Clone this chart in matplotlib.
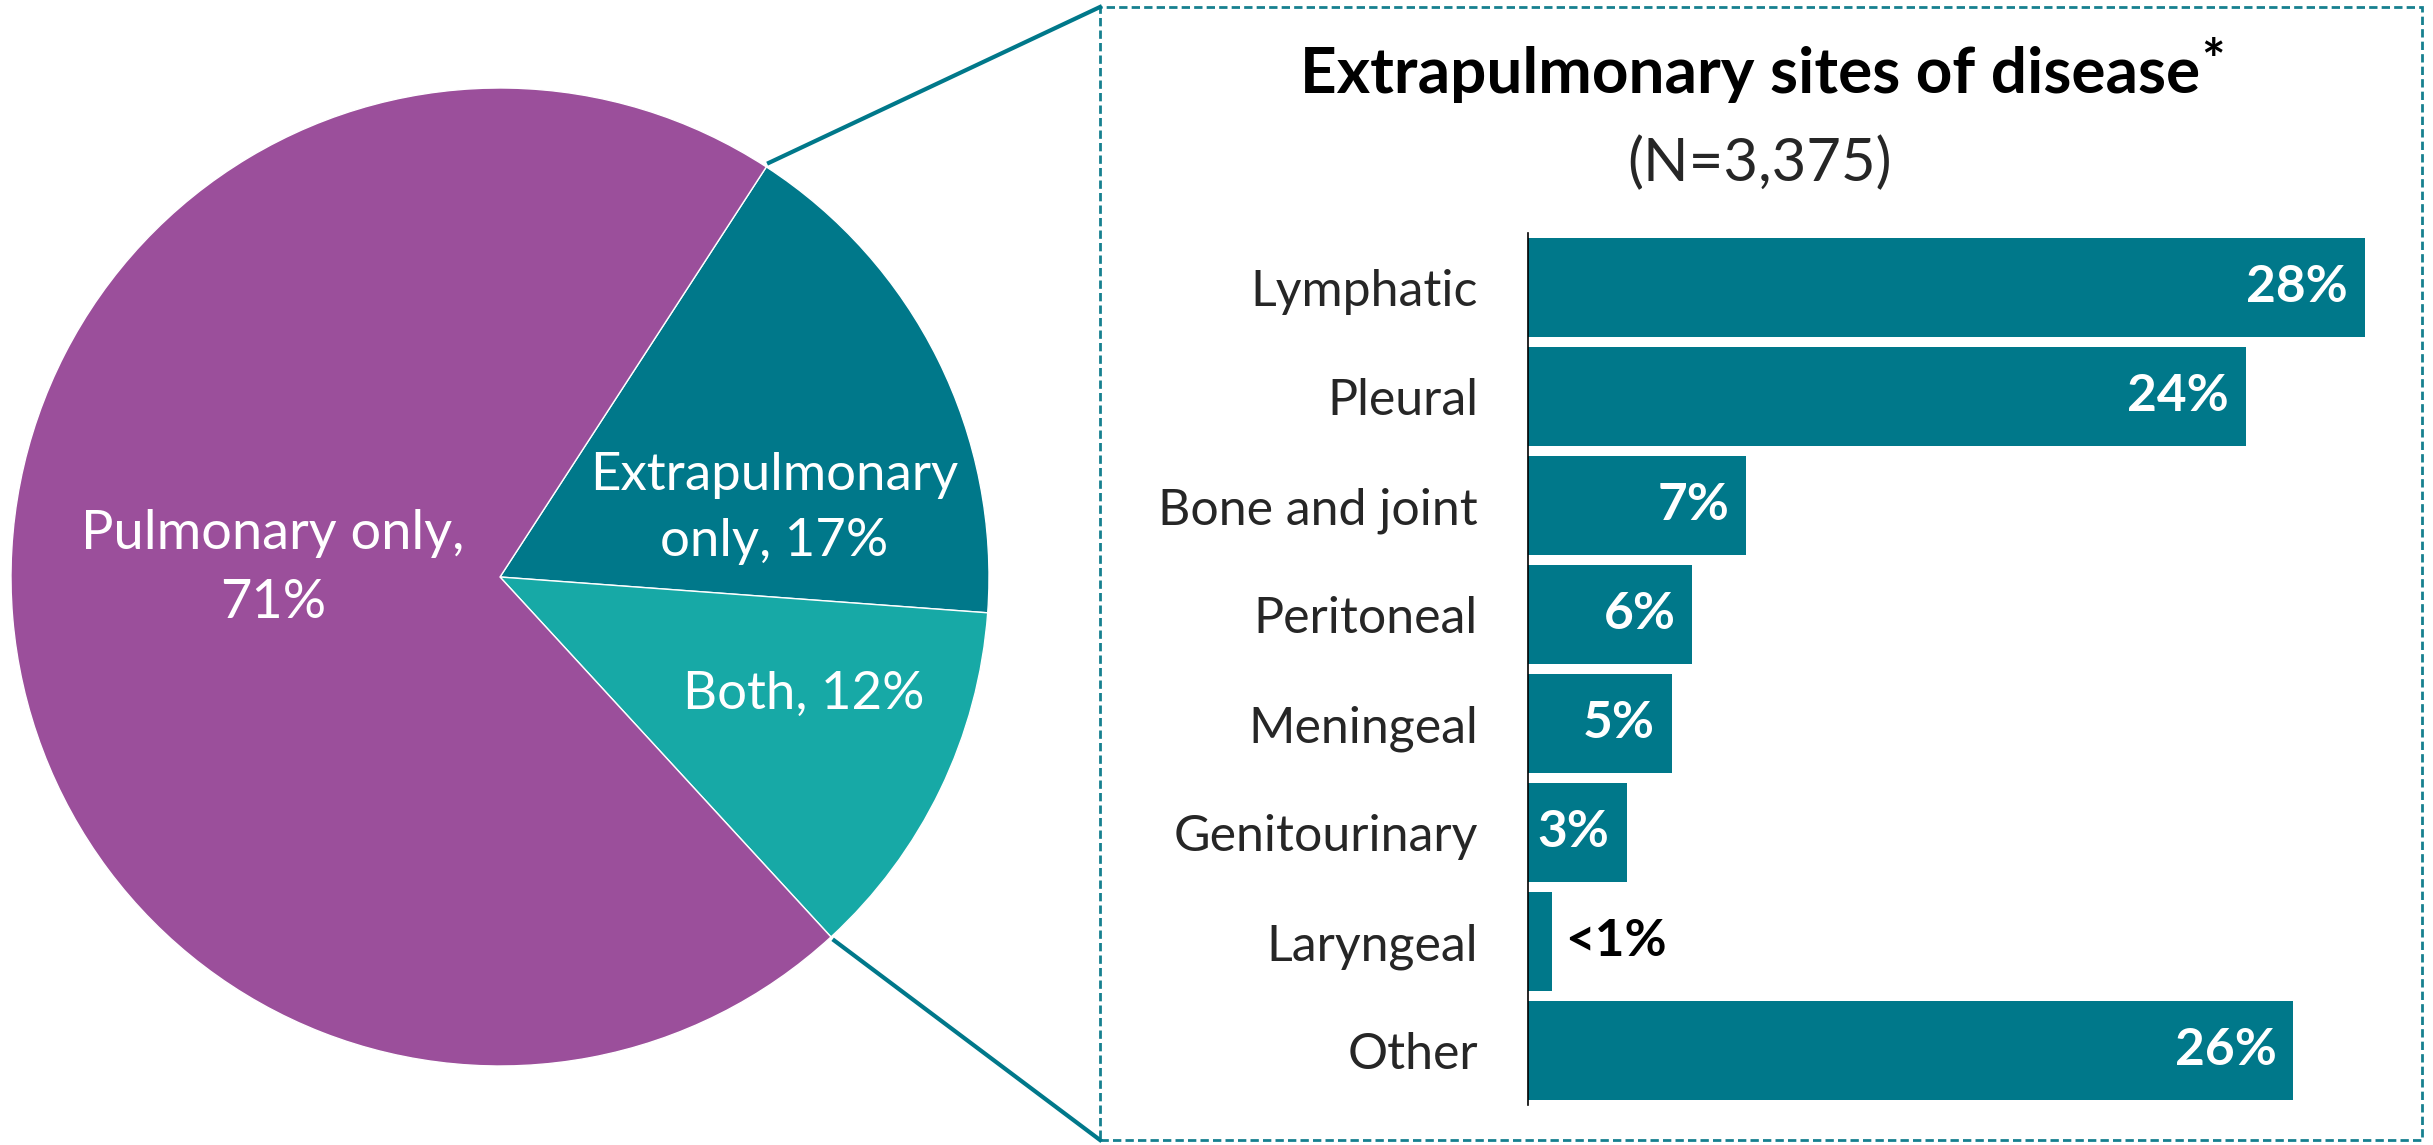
import numpy as np
import matplotlib
matplotlib.use('Agg')
import matplotlib.pyplot as plt
from matplotlib.patches import Rectangle
from matplotlib.lines import Line2D

plt.rcParams['font.family'] = ['Lato', 'DejaVu Sans']

W, H, DPI = 2433, 1145, 100

# ---------- data ----------
pie_labels = ['Extrapulmonary\nonly, 17%', 'Both, 12%', 'Pulmonary only,\n71%']
pie_values = [17, 12, 71]
pie_colors = ['#00788A', '#17A9A6', '#9B4F9B']

sites = ['Lymphatic', 'Pleural', 'Bone and joint', 'Peritoneal',
         'Meningeal', 'Genitourinary', 'Laryngeal', 'Other']
site_pct = [28.0, 24.0, 7.3, 5.5, 4.8, 3.3, 0.8, 25.6]
site_text = ['28%', '24%', '7%', '6%', '5%', '3%', '<1%', '26%']

TEAL = '#00788A'
TXT = '#262626'


def fx(px):
    return px / W


def fy(py):
    # py measured from the top of the image
    return 1 - py / H


fig = plt.figure(figsize=(W / DPI, H / DPI), dpi=DPI)

# ---------- pie ----------
R, cx, cy = 489, 500, 577
ax_pie = fig.add_axes([fx(cx - R), fy(cy + R), 2 * R / W, 2 * R / H])
wedges, _ = ax_pie.pie(pie_values, colors=pie_colors, startangle=57,
                       counterclock=False,
                       wedgeprops=dict(edgecolor='white', linewidth=1.0))
ax_pie.set_xlim(-1, 1)
ax_pie.set_ylim(-1, 1)
ax_pie.set_aspect('equal')

lab_pos = [(0.560, 0.043), (0.622, -0.270), (-0.464, -0.084)]
lab_size = [38, 38, 39]
for (x, y), lab, fs in zip(lab_pos, pie_labels, lab_size):
    ax_pie.text(x, y, lab, ha='center', va='baseline', color='white',
                fontsize=fs, linespacing=1.5)

# ---------- bars ----------
ax = fig.add_axes([fx(1528), fy(1105), 872 / W, 872 / H])
ypos = np.arange(len(sites))
ax.barh(ypos, site_pct, height=0.91, color=TEAL)
ax.set_ylim(len(sites) - 0.5, -0.5)
ax.set_xlim(0, 872 / 29.9)
ax.set_yticks(ypos, sites)
ax.set_xticks([])
ax.tick_params(axis='y', length=0, pad=36, labelsize=36, labelcolor=TXT)
for s in ['top', 'right', 'bottom']:
    ax.spines[s].set_visible(False)
ax.spines['left'].set_linewidth(1.2)
ax.spines['left'].set_color('black')
ax.patch.set_alpha(0)

for i, (v, t) in enumerate(zip(site_pct, site_text)):
    if v < 2:
        ax.text(v + 0.43, i, t, ha='left', va='center', color='black',
                fontsize=37, fontweight='bold')
    else:
        ax.text(v - 0.57, i, t, ha='right', va='center', color='white',
                fontsize=37, fontweight='bold')

# ---------- titles ----------
title = fig.text(fx(1750), fy(93), 'Extrapulmonary sites of disease',
                 ha='center', va='baseline', fontsize=46, fontweight='bold',
                 color='black')
ax.annotate('*', xy=(1, 1), xycoords=title, xytext=(1, 6),
            textcoords='offset points', ha='left', va='top',
            fontsize=40, fontweight='bold', annotation_clip=False)
fig.text(fx(1760), fy(181), '(N=3,375)', ha='center', va='baseline',
         fontsize=43, color=TXT)

# ---------- zoom box + connectors ----------
box = Rectangle((fx(1100), fy(1140)), fx(2422) - fx(1100), fy(7) - fy(1140),
                transform=fig.transFigure, fill=False, edgecolor='#16808F',
                linewidth=2, linestyle=(0, (3, 1.5)))
fig.add_artist(box)


def pie_edge(angle_deg, r=1.01):
    a = np.deg2rad(angle_deg)
    disp = ax_pie.transData.transform((r * np.cos(a), r * np.sin(a)))
    return fig.transFigure.inverted().transform(disp)


top_pt = pie_edge(wedges[0].theta2)
bot_pt = pie_edge(wedges[1].theta1)
fig.add_artist(Line2D([top_pt[0], fx(1100)], [top_pt[1], fy(7)],
                      transform=fig.transFigure, color=TEAL, linewidth=3.0))
fig.add_artist(Line2D([bot_pt[0], fx(1100)], [bot_pt[1], fy(1140)],
                      transform=fig.transFigure, color=TEAL, linewidth=3.0))

fig.savefig('out.png', dpi=DPI)
